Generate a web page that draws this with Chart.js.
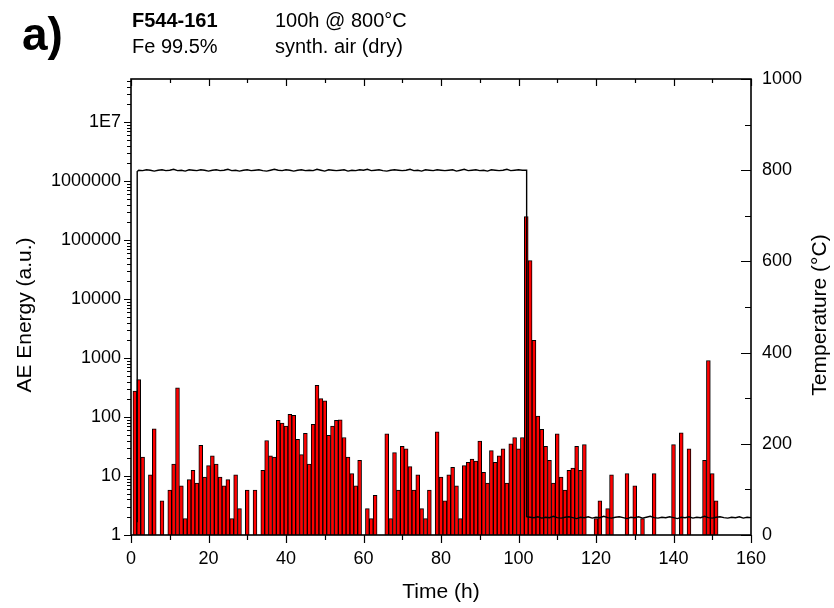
<!DOCTYPE html>
<html>
<head>
<meta charset="utf-8">
<script src="https://cdn.jsdelivr.net/npm/chart.js@4.4.0/dist/chart.umd.min.js"></script>
<style>
  html, body { margin: 0; padding: 0; background: #fff; }
</style>
</head>
<body>
<canvas id="aeChart" width="834" height="608"></canvas>
<script>

// AE energy per hour, hours 1..151 (null = no event in that hour)
var hours = [];
for (var h = 1; h <= 151; h++) hours.push(h);

var energy = [
    275, 430, 21, null, 10.5, 63, null, 3.8, null, 5.8,
    16, 313, 6.8, 1.9, 8.7, 12.5, 7.6, 33, 9.6, 15,
    22, 16, 9.6, 6.8, 8.7, 1.9, 10.5, 2.8, null, 5.8,
    null, 5.8, null, 12.5, 40, 22, 21, 88, 79, 70,
    111, 107, 42, 23, 53, 16, 75, 345, 205, 189,
    49, 70, 88, 90, 45, 21, 11, 6.8, 18.5, null,
    2.8, 1.9, 4.7, null, null, 52, 1.9, 25, 5.8, 32,
    29, 14.4, 5.8, 10.5, 2.8, 1.9, 5.8, null, 56, 9.6,
    3.8, 10.5, 14, 6.8, 1.9, 15, 17, 19.4, 18, 39,
    11.5, 7.6, 27, 17, 22, 29, 7.6, 35, 45, 29,
    45, 250000, 45000, 2000, 104, 62, 32, 18.5, 7.6, 52,
    9.6, 5.8, 12.5, 13.7, 32, 12.5, 34, null, null, 1.9,
    3.8, null, 2.8, 10.5, null, null, null, 11, null, 6.8,
    null, 1.9, null, null, 11, null, null, null, null, 34,
    null, 54, null, 29, null, null, null, 18.5, 910, 11,
    3.8
];

// furnace temperature, read hourly: at 800 °C for hours 2..101, cooled for hours 103..160
var plateauTemp = [
    800, 799, 801, 800, 798, 800, 801, 799, 800, 802,
    799, 800, 798, 801, 800, 799, 801, 800, 798, 800,
    801, 799, 800, 802, 799, 800, 798, 800, 801, 799,
    800, 801, 799, 798, 800, 802, 800, 799, 801, 800,
    798, 800, 801, 799, 800, 799, 802, 800, 798, 801,
    800, 799, 800, 801, 798, 800, 799, 801, 800, 802,
    799, 800, 801, 799, 798, 800, 801, 800, 799, 800,
    802, 799, 800, 798, 801, 800, 799, 801, 800, 799,
    800, 801, 798, 800, 802, 799, 800, 801, 799, 800,
    798, 801, 800, 799, 800, 802, 799, 800, 801, 800
];
var coolTemp = [
    39, 38, 40, 37, 39, 38, 41, 38, 37, 39,
    40, 38, 36, 39, 38, 40, 37, 39, 38, 41,
    38, 37, 39, 40, 38, 36, 39, 38, 40, 37,
    39, 41, 38, 37, 39, 38, 40, 38, 36, 39,
    38, 40, 37, 39, 38, 41, 38, 37, 39, 40,
    38, 37, 39, 38, 40, 37, 39, 38
];
var heatOn = 1.6, heatOff = 102.1;

var xTicks = [0, 20, 40, 60, 80, 100, 120, 140, 160];
var energyTicks = [1, 10, 100, 1000, 10000, 100000, 1000000, 10000000];
var tempTicks = [0, 200, 400, 600, 800, 1000];

var FONT = "'Liberation Sans', Arial, sans-serif";

var barPoints = [];
for (var i = 0; i < hours.length; i++) {
    if (energy[i] !== null) barPoints.push({x: hours[i], y: energy[i]});
}

var linePoints = [{x: heatOn, y: 28}, {x: heatOn, y: 797}];
plateauTemp.forEach(function (v, k) { linePoints.push({x: k + 2, y: v}); });
linePoints.push({x: heatOff, y: 800}, {x: heatOff, y: 40});
coolTemp.forEach(function (v, k) { linePoints.push({x: k + 103, y: v}); });

// frame, tick marks and the texts around the plot
var decorations = {
    id: 'decorations',
    afterDraw: function (chart) {
        var ctx = chart.ctx;
        var a = chart.chartArea;
        var sx = chart.scales.x, sy = chart.scales.y, st = chart.scales.yT;
        ctx.save();
        ctx.strokeStyle = '#000';
        ctx.lineWidth = 1.2;
        ctx.beginPath();
        // bottom (outward) and top (inward)
        for (var t = 0; t <= 160; t += 10) {
            var px = Math.round(sx.getPixelForValue(t)) + 0.5;
            var major = xTicks.indexOf(t) >= 0;
            ctx.moveTo(px, a.bottom); ctx.lineTo(px, a.bottom + (major ? 8 : 5));
            ctx.moveTo(px, a.top); ctx.lineTo(px, a.top + (major ? 7 : 4));
        }
        // left log axis, outward
        energyTicks.forEach(function (d) {
            for (var m = 1; m <= 9; m++) {
                var v = d * m;
                if (v > sy.max) break;
                var py = Math.round(sy.getPixelForValue(v)) + 0.5;
                ctx.moveTo(a.left, py); ctx.lineTo(a.left - (m === 1 ? 7 : 4), py);
            }
        });
        // right temperature axis, inward
        for (var c = 0; c <= 1000; c += 100) {
            var py2 = Math.round(st.getPixelForValue(c)) + 0.5;
            ctx.moveTo(a.right, py2); ctx.lineTo(a.right - (tempTicks.indexOf(c) >= 0 ? 10 : 6), py2);
        }
        ctx.stroke();
        ctx.lineWidth = 1.6;
        ctx.strokeRect(a.left, a.top, a.right - a.left, a.bottom - a.top);

        ctx.fillStyle = '#000';
        ctx.textBaseline = 'alphabetic';
        ctx.textAlign = 'left';
        ctx.font = 'bold 46px ' + FONT;
        ctx.fillText('a)', 22, 50);
        ctx.font = 'bold 20px ' + FONT;
        ctx.fillText('F544-161', 132, 27);
        ctx.font = '20px ' + FONT;
        ctx.fillText('Fe 99.5%', 132, 53);
        ctx.fillText('100h @ 800°C', 275, 27);
        ctx.fillText('synth. air (dry)', 275, 53);

        ctx.font = '21px ' + FONT;
        ctx.textAlign = 'center';
        ctx.fillText('Time (h)', (a.left + a.right) / 2, 598);

        ctx.textBaseline = 'middle';
        ctx.save();
        ctx.translate(25, 315);
        ctx.rotate(-Math.PI / 2);
        ctx.fillText('AE Energy (a.u.)', 0, 0);
        ctx.restore();
        ctx.save();
        ctx.translate(820, 315);
        ctx.rotate(-Math.PI / 2);
        ctx.fillText('Temperature (°C)', 0, 0);
        ctx.restore();
        ctx.restore();
    }
};

var ctxA = document.getElementById('aeChart').getContext('2d');
var aeChart = new Chart(ctxA, {
    type: 'bar',
    data: {
        datasets: [{
            type: 'line',
            data: linePoints,
            yAxisID: 'yT',
            borderColor: '#000',
            borderWidth: 1.4,
            pointRadius: 0,
            tension: 0
        }, {
            type: 'bar',
            data: barPoints,
            yAxisID: 'y',
            backgroundColor: '#ff0000',
            borderColor: '#000',
            borderWidth: 1,
            barPercentage: 1,
            categoryPercentage: 1
        }]
    },
    options: {
        responsive: false,
        animation: false,
        events: [],
        layout: {padding: {top: 79, left: 0, right: 0, bottom: 0}},
        plugins: {legend: {display: false}, tooltip: {enabled: false}},
        scales: {
            x: {
                type: 'linear',
                min: 0,
                max: 160,
                offset: false,
                afterBuildTicks: function (s) { s.ticks = xTicks.map(function (v) { return {value: v}; }); },
                afterFit: function (s) { s.height = 73; },
                grid: {drawOnChartArea: false, color: 'transparent', tickLength: 8},
                border: {display: false},
                ticks: {
                    color: '#000', padding: 5, maxRotation: 0, font: {family: FONT, size: 18},
                    callback: function (v) { return String(v); }
                }
            },
            y: {
                type: 'logarithmic',
                position: 'left',
                min: 1,
                max: 5.4e7,
                afterBuildTicks: function (s) { s.ticks = energyTicks.map(function (v) { return {value: v}; }); },
                afterFit: function (s) { s.width = 131; },
                grid: {drawOnChartArea: false, color: 'transparent', tickLength: 7},
                border: {display: false},
                ticks: {
                    color: '#000',
                    padding: 3,
                    font: {family: FONT, size: 18},
                    callback: function (v) { return v === 1e7 ? '1E7' : String(v); }
                }
            },
            yT: {
                type: 'linear',
                position: 'right',
                min: 0,
                max: 1000,
                afterBuildTicks: function (s) { s.ticks = tempTicks.map(function (v) { return {value: v}; }); },
                afterFit: function (s) { s.width = 83; },
                grid: {drawOnChartArea: false, drawTicks: false, color: 'transparent'},
                border: {display: false},
                ticks: {
                    color: '#000', padding: 11, font: {family: FONT, size: 18},
                    callback: function (v) { return String(v); }
                }
            }
        }
    },
    plugins: [decorations]
});

</script>
</body>
</html>
